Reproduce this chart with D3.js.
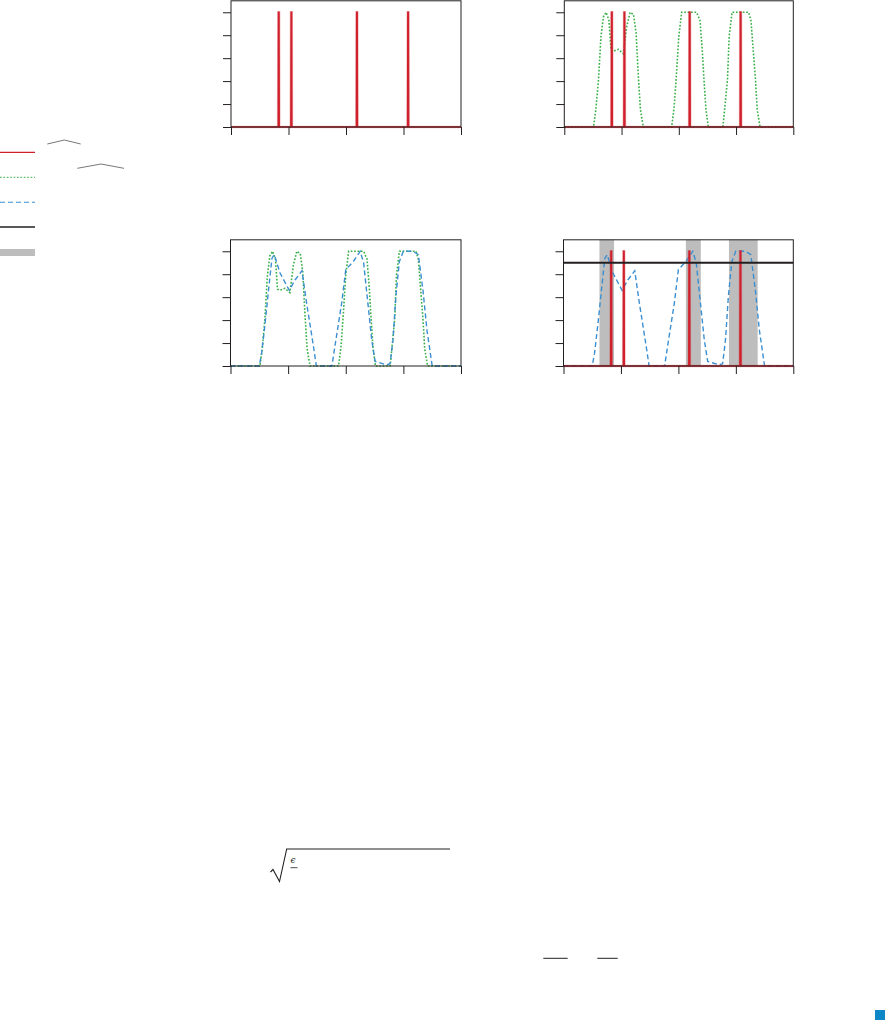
<!DOCTYPE html>
<html><head><meta charset="utf-8">
<script src="https://cdn.jsdelivr.net/npm/d3@7"></script>
<style>body{margin:0;background:#fff}svg{display:block}</style>
</head><body>
<script>
// ---- data ----
const xTicks = [0, 1, 2, 3, 4];
const yTicks = [0, 0.2, 0.4, 0.6, 0.8, 1.0];

const redX = [0, 0.82, 0.824, 0.836, 0.84, 1.04, 1.044, 1.056, 1.06,
              2.18, 2.184, 2.196, 2.2, 3.07, 3.074, 3.086, 3.09, 4];
const redY = [0, 0, 1, 1, 0, 0, 1, 1, 0,
              0, 1, 1, 0, 0, 1, 1, 0, 0];

const greenX = [0, 0.51, 0.55, 0.597, 0.64, 0.683, 0.73, 0.78, 0.816, 0.857, 0.944, 1.03, 1.09, 1.15, 1.21,
                1.254, 1.29, 1.33, 1.38, 1.875, 1.92, 1.96, 2.0, 2.05, 2.31, 2.37, 2.41, 2.44, 2.475, 2.515,
                2.77, 2.8, 2.85, 2.88, 2.93, 3.22, 3.26, 3.3, 3.34, 3.37, 3.42, 4];
const greenY = [0, 0, 0.148, 0.41, 0.787, 0.96, 1.0, 0.93, 0.67, 0.66, 0.677, 0.64, 0.875, 1.0, 0.98,
                0.82, 0.47, 0.15, 0, 0, 0.18, 0.47, 0.79, 1.0, 1.0, 0.93, 0.67, 0.41, 0.15, 0,
                0, 0.15, 0.41, 0.79, 1.0, 1.0, 0.93, 0.67, 0.41, 0.15, 0, 0];

const blueX = [0, 0.50, 0.54, 0.60, 0.66, 0.72, 0.76, 0.86, 1.02, 1.12, 1.24, 1.32, 1.44, 1.49, 1.76,
               1.83, 1.93, 2.0, 2.13, 2.25, 2.31, 2.39, 2.45, 2.51, 2.71, 2.77, 2.82, 2.87, 2.93, 3.0,
               3.17, 3.26, 3.34, 3.41, 3.50, 4];
const blueY = [0, 0, 0.11, 0.37, 0.66, 0.94, 0.97, 0.81, 0.66, 0.75, 0.83, 0.55, 0.17, 0, 0,
               0.23, 0.55, 0.84, 0.91, 1.0, 0.9, 0.52, 0.23, 0.04, 0.01, 0.02, 0.23, 0.61, 0.91, 1.0,
               1.0, 0.97, 0.66, 0.31, 0, 0];

const bandStart = [0.626, 2.13, 2.88];
const bandEnd   = [0.88, 2.39, 3.38];
const thresholdValue = [0.90];

// ---- drawing ----
const W = 885, H = 1021;
const svg = d3.select("body").append("svg").attr("width", W).attr("height", H);
const ink = "#231f20", red = "#d0202c", green = "#3bb048", blue = "#3b8fd0", gray = "#bdbdbd";

const panels = [
  {x0: 231, x1: 461, y0: 127, series: ["red"]},
  {x0: 564.3, x1: 793.3, y0: 127, series: ["green", "red"]},
  {x0: 230.5, x1: 461, y0: 366, series: ["green", "blue"]},
  {x0: 563.5, x1: 793.3, y0: 366, series: ["bands", "blue", "red", "thresh"]}
];

const toPts = (xs, ys) => xs.map((x, i) => [x, ys[i]]);

panels.forEach(p => {
  const x = d3.scaleLinear().domain([0, 4]).range([p.x0, p.x1]);
  const y = d3.scaleLinear().domain([0, 1.1]).range([p.y0, p.y0 - 126.2]);
  const g = svg.append("g");
  const line = d3.line().x(d => x(d[0])).y(d => y(d[1]));

  p.series.forEach(s => {
    if (s === "bands") {
      g.selectAll("rect.band").data(bandStart.map((b, i) => [b, bandEnd[i]])).enter().append("rect")
        .attr("x", d => x(d[0])).attr("width", d => x(d[1]) - x(d[0]))
        .attr("y", y(1.1)).attr("height", y(0) - y(1.1)).attr("fill", gray);
    } else if (s === "red") {
      const pts = toPts(redX, redY);
      g.append("path").attr("d", line(pts)).attr("fill", "none").attr("stroke", red)
        .attr("stroke-opacity", 0.3).attr("stroke-width", 2.6);
      g.append("path").attr("d", line(pts)).attr("fill", red).attr("stroke", red)
        .attr("stroke-width", 1.3).attr("stroke-linejoin", "miter");
    } else if (s === "green") {
      g.append("path").attr("d", line(toPts(greenX, greenY))).attr("fill", "none").attr("stroke", green)
        .attr("stroke-width", 1.6).attr("stroke-dasharray", "1.7,1.7");
    } else if (s === "blue") {
      g.append("path").attr("d", line(toPts(blueX, blueY))).attr("fill", "none").attr("stroke", blue)
        .attr("stroke-width", 1.4).attr("stroke-dasharray", "5,3");
    } else if (s === "thresh") {
      g.selectAll("line.th").data(thresholdValue).enter().append("line")
        .attr("x1", x(0)).attr("x2", x(4)).attr("y1", d => y(d)).attr("y2", d => y(d))
        .attr("stroke", ink).attr("stroke-width", 2);
    }
  });

  // frame
  g.append("rect").attr("x", x(0)).attr("y", y(1.1)).attr("width", x(4) - x(0)).attr("height", y(0) - y(1.1))
    .attr("fill", "none").attr("stroke", ink).attr("stroke-width", 1);
  // axes (ticks only, no labels)
  g.append("g").attr("transform", `translate(0,${y(0)})`)
    .call(d3.axisBottom(x).tickValues(xTicks).tickSize(8).tickFormat(""))
    .call(a => a.select(".domain").remove())
    .call(a => a.selectAll("line").attr("stroke", ink));
  g.append("g").attr("transform", `translate(${x(0)},0)`)
    .call(d3.axisLeft(y).tickValues(yTicks).tickSize(8).tickFormat(""))
    .call(a => a.select(".domain").remove())
    .call(a => a.selectAll("line").attr("stroke", ink));
});

// ---- legend ----
const leg = svg.append("g");
leg.append("line").attr("x1", 0).attr("x2", 35).attr("y1", 152.3).attr("y2", 152.3).attr("stroke", red).attr("stroke-width", 1.2);
leg.append("line").attr("x1", 0).attr("x2", 35).attr("y1", 177.3).attr("y2", 177.3).attr("stroke", green).attr("stroke-width", 1).attr("stroke-dasharray", "1.7,1.7");
leg.append("line").attr("x1", 0).attr("x2", 35).attr("y1", 202.3).attr("y2", 202.3).attr("stroke", blue).attr("stroke-width", 1.1).attr("stroke-dasharray", "5,3");
leg.append("line").attr("x1", 0).attr("x2", 35).attr("y1", 227).attr("y2", 227).attr("stroke", ink).attr("stroke-width", 1.6);
leg.append("rect").attr("x", 0).attr("y", 249).attr("width", 35).attr("height", 7).attr("fill", gray);
// hats
leg.append("path").attr("d", "M47.3,144 L64.3,140 L80.7,144").attr("fill", "none").attr("stroke", "#555").attr("stroke-width", 0.8);
leg.append("path").attr("d", "M77.3,168.3 L101,164 L124,168.3").attr("fill", "none").attr("stroke", "#555").attr("stroke-width", 0.8);

// ---- equation fragments ----
svg.append("path").attr("d", "M270.5,872 L273,869.5 L279.5,881.5 L286.7,849 L450,849")
  .attr("fill", "none").attr("stroke", ink).attr("stroke-width", 1.1);
svg.append("text").attr("x", 290.5).attr("y", 863).attr("font-family", "DejaVu Serif").attr("font-style", "italic")
  .attr("font-size", 9).attr("fill", ink).text("ϵ");
svg.append("line").attr("x1", 290.5).attr("x2", 297.5).attr("y1", 867.7).attr("y2", 867.7).attr("stroke", ink).attr("stroke-width", 0.8);
svg.append("line").attr("x1", 543.3).attr("x2", 567.7).attr("y1", 958.3).attr("y2", 958.3).attr("stroke", ink).attr("stroke-width", 1);
svg.append("line").attr("x1", 597.3).attr("x2", 617.7).attr("y1", 958.3).attr("y2", 958.3).attr("stroke", ink).attr("stroke-width", 1);

// corner marker
svg.append("rect").attr("x", 875).attr("y", 1010).attr("width", 10).attr("height", 10).attr("fill", "#0e87c7");
</script>
</body></html>
